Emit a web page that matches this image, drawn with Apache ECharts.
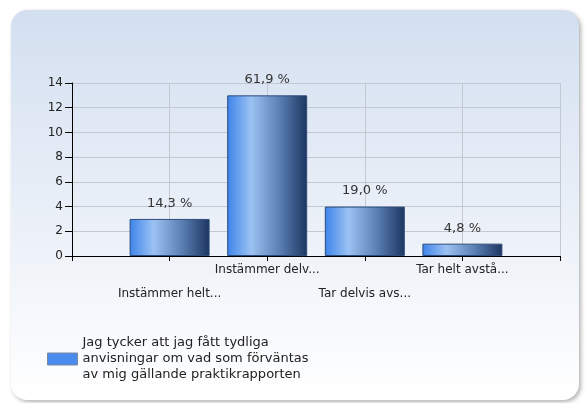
<!DOCTYPE html>
<html><head><meta charset="utf-8">
<script src="https://cdn.jsdelivr.net/npm/echarts@6/dist/echarts.min.js"></script>
<style>html,body{margin:0;padding:0;background:#fff}#c{width:585px;height:403px}</style>
</head><body><div id="c"></div>
<script>
var categories = ['', 'Instämmer helt...', 'Instämmer delv...', 'Tar delvis avs...', 'Tar helt avstå...', ''];
var counts = ['-', 3, 13, 4, 1, '-'];
var percentLabels = ['', '14,3 %', '61,9 %', '19,0 %', '4,8 %', ''];
var yTicks = [0, 2, 4, 6, 8, 10, 12, 14];
var seriesName = 'Jag tycker att jag fått tydliga\nanvisningar om vad som förväntas\nav mig gällande praktikrapporten';

var chart = echarts.init(document.getElementById('c'), null, {renderer: 'canvas'});
var font = 'DejaVu Sans, Verdana, sans-serif';
chart.setOption({
  animation: false,
  textStyle: {fontFamily: font},
  graphic: [{
    type: 'rect', z: -10, silent: true,
    shape: {x: 11, y: 10, width: 568, height: 390, r: 16},
    style: {
      fill: new echarts.graphic.LinearGradient(0, 0, 0, 1, [
        {offset: 0, color: '#d3dff0'}, {offset: 1, color: '#ffffff'}]),
      shadowBlur: 4, shadowOffsetX: 2, shadowOffsetY: 2, shadowColor: 'rgba(0,0,0,0.3)'
    }
  }],
  grid: {left: 72, right: 25, top: 83, bottom: 147, containLabel: false},
  xAxis: {
    type: 'category', data: categories, boundaryGap: false,
    axisLine: {lineStyle: {color: '#000', width: 1}},
    axisTick: {show: true, length: 5, lineStyle: {color: '#000'}},
    axisLabel: {
      interval: 0, margin: 8, color: '#222', fontSize: 12, lineHeight: 12, fontFamily: font,
      formatter: function (v, i) { return (i % 2 === 1) ? '\n\n' + v : v; }
    },
    splitLine: {show: true, lineStyle: {color: '#c4c8d0'}}
  },
  yAxis: {
    type: 'value', min: yTicks[0], max: yTicks[yTicks.length - 1], interval: 2,
    axisLine: {show: true, lineStyle: {color: '#000', width: 1}},
    axisTick: {show: true, length: 7, lineStyle: {color: '#000'}},
    axisLabel: {color: '#222', fontSize: 12, margin: 9, fontFamily: font},
    splitLine: {show: true, lineStyle: {color: '#c4c8d0'}}
  },
  legend: {
    left: 42, top: 330, orient: 'vertical',
    itemWidth: 30, itemHeight: 12,
    textStyle: {color: '#222', fontSize: 13, lineHeight: 16, fontFamily: font},
    data: [{name: seriesName, icon: 'rect', itemStyle: {color: '#4a8cee', borderColor: '#7a8aa0', borderWidth: 1}}]
  },
  series: [{
    type: 'bar', name: seriesName, data: counts, barWidth: 80,
    itemStyle: {
      color: new echarts.graphic.LinearGradient(0, 0, 1, 0, [
        {offset: 0, color: '#3c84ea'}, {offset: 0.3, color: '#9cc2f3'},
        {offset: 0.65, color: '#5a80b4'}, {offset: 1, color: '#1d3560'}]),
      borderColor: '#2d4c7a', borderWidth: 1
    },
    label: {
      show: true, position: 'top', distance: 9, color: '#333', fontSize: 13, fontFamily: font,
      formatter: function (p) { return percentLabels[p.dataIndex]; }
    }
  }]
});
</script></body></html>
